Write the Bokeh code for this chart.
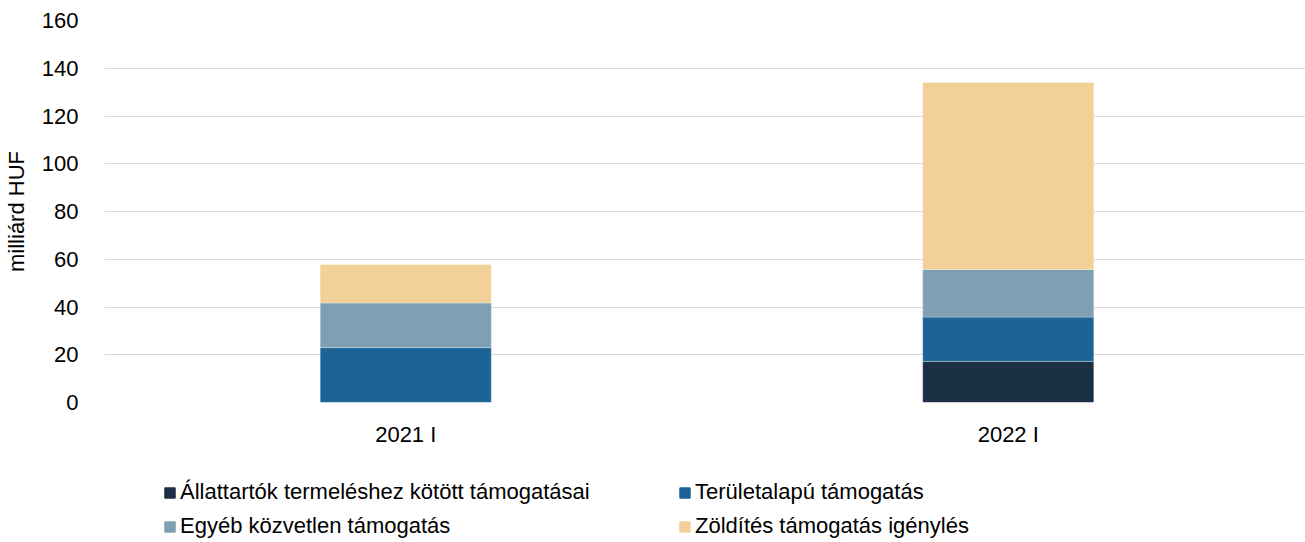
from bokeh.plotting import figure
from bokeh.models import Legend, LegendItem, ColumnDataSource, FactorRange
from bokeh.layouts import column
from bokeh.embed import file_html
from bokeh.resources import INLINE

categories = ["2021 I", "2022 I"]
series_names = ["Állattartók termeléshez kötött támogatásai", "Területalapú támogatás",
                "Egyéb közvetlen támogatás", "Zöldítés támogatás igénylés"]
allattartok = [0.0, 17.2]
teruletalapu = [23.0, 18.6]
egyeb = [18.7, 19.9]
zolditese = [16.1, 78.3]
colors = ["#1b2f45", "#1d6496", "#7fa0b3", "#f2d198"]
y_ticks = [0, 20, 40, 60, 80, 100, 120, 140, 160]

keys = ["a", "t", "e", "z"]
source = ColumnDataSource(dict(cat=categories, a=allattartok, t=teruletalapu, e=egyeb, z=zolditese))

p = figure(x_range=FactorRange(*categories, range_padding=0.0), y_range=(0, 160),
           frame_width=1205, frame_height=382, min_border_left=100, min_border_top=20,
           min_border_right=0, min_border_bottom=45,
           output_backend="svg", toolbar_location=None)

p.vbar_stack(keys, x="cat", width=0.284, color=colors, source=source,
             line_color="white", line_width=0.5, line_alpha=0.6)

font = "Liberation Sans"
fs = "22px"
p.outline_line_color = None
p.xgrid.grid_line_color = None
p.ygrid.grid_line_color = "#d9d9d9"
p.ygrid.grid_line_width = 1
p.yaxis.ticker = y_ticks
p.yaxis.axis_line_color = None
p.yaxis.major_tick_line_color = None
p.yaxis.minor_tick_line_color = None
p.yaxis.major_label_text_font = font
p.yaxis.major_label_text_font_size = fs
p.yaxis.major_label_text_color = "#000000"
p.yaxis.major_label_standoff = 20
p.yaxis.axis_label = "milliárd HUF"
p.yaxis.axis_label_text_font = font
p.yaxis.axis_label_text_font_size = fs
p.yaxis.axis_label_text_font_style = "normal"
p.yaxis.axis_label_text_color = "#000000"
p.yaxis.axis_label_standoff = 10

p.xaxis.axis_line_color = None
p.xaxis.major_tick_line_color = None
p.xaxis.minor_tick_line_color = None
p.xaxis.major_label_text_font = font
p.xaxis.major_label_text_font_size = fs
p.xaxis.major_label_text_color = "#000000"
p.xaxis.major_label_standoff = 13

# Legend in its own strip below the chart
p2 = figure(frame_width=1305, frame_height=95, min_border=0, x_range=(0, 1), y_range=(0, 1),
            x_axis_type=None, y_axis_type=None, output_backend="svg", toolbar_location=None)
p2.outline_line_color = None
p2.grid.visible = False
legend_renderers = [p2.vbar(x=[-5], top=[-5], bottom=[-5], width=0, fill_color=c, line_color=c)
                    for c in colors]

order = [0, 2, 1, 3]  # column-major fill -> row-major reading order
items = [LegendItem(label=series_names[i], renderers=[legend_renderers[i]]) for i in order]
legend = Legend(items=items, ncols=2, location=(163, 5),
                label_text_font=font, label_text_font_size=fs, label_text_color="#000000",
                glyph_width=13, glyph_height=13, label_standoff=4, spacing=8,
                label_height=24, label_width=490,
                padding=0, margin=0, border_line_color=None, background_fill_alpha=0)
p2.add_layout(legend, "center")

layout = column(p, p2, spacing=0)
open("out.html", "w").write(file_html(layout, INLINE))
